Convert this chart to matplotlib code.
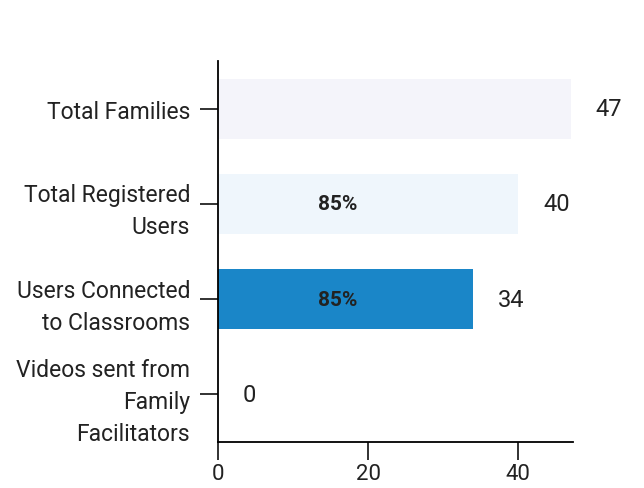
import matplotlib
matplotlib.use('Agg')
import matplotlib.pyplot as plt

# dados do grafico
categorias = ['Total Families', 'Total Registered\nUsers',
              'Users Connected\nto Classrooms',
              'Videos sent from\nFamily\nFacilitators']
valores = [47, 40, 34, 0]
percentuais = ['', '85%', '85%', '']
cores = ['#f4f4fa', '#eff6fc', '#1a86c8', '#ffffff']
ticks_x = [0, 20, 40]

plt.rcParams['font.family'] = ['Roboto', 'DejaVu Sans']

fig = plt.figure(figsize=(6.44, 4.89), dpi=100)
ax = fig.add_axes([0.3385, 0.094, 0.5513, 0.779])

pos = list(range(len(categorias)))
ax.barh(pos, valores, height=0.63, color=cores)

# rotulos de valor a direita das barras
for p, v in zip(pos, valores):
    ax.annotate(str(v), (v, p), xytext=(18, 0), textcoords='offset points',
                ha='left', va='center', fontsize=17, color='#222222')

# percentuais dentro das barras
for p, t in zip(pos, percentuais):
    if t:
        ax.text(16, p, t, ha='center', va='center', fontsize=15,
                fontweight='bold', color='#222222')

ax.set_xlim(0, 47.3)
ax.set_ylim(3.5, -0.5)
ax.set_yticks(pos)
ax.set_yticklabels(categorias, fontsize=16.5, linespacing=1.5, color='#222222')
ax.set_xticks(ticks_x)
ax.set_xticklabels([str(t) for t in ticks_x], fontsize=16, color='#222222')
ax.tick_params(axis='both', length=13, width=1.3, color='#222222')
ax.tick_params(axis='y', pad=7)
ax.tick_params(axis='x', pad=2)
ax.spines['top'].set_visible(False)
ax.spines['right'].set_visible(False)
ax.spines['left'].set_linewidth(1.3)
ax.spines['bottom'].set_linewidth(1.3)

fig.savefig('out.png', dpi=100)
